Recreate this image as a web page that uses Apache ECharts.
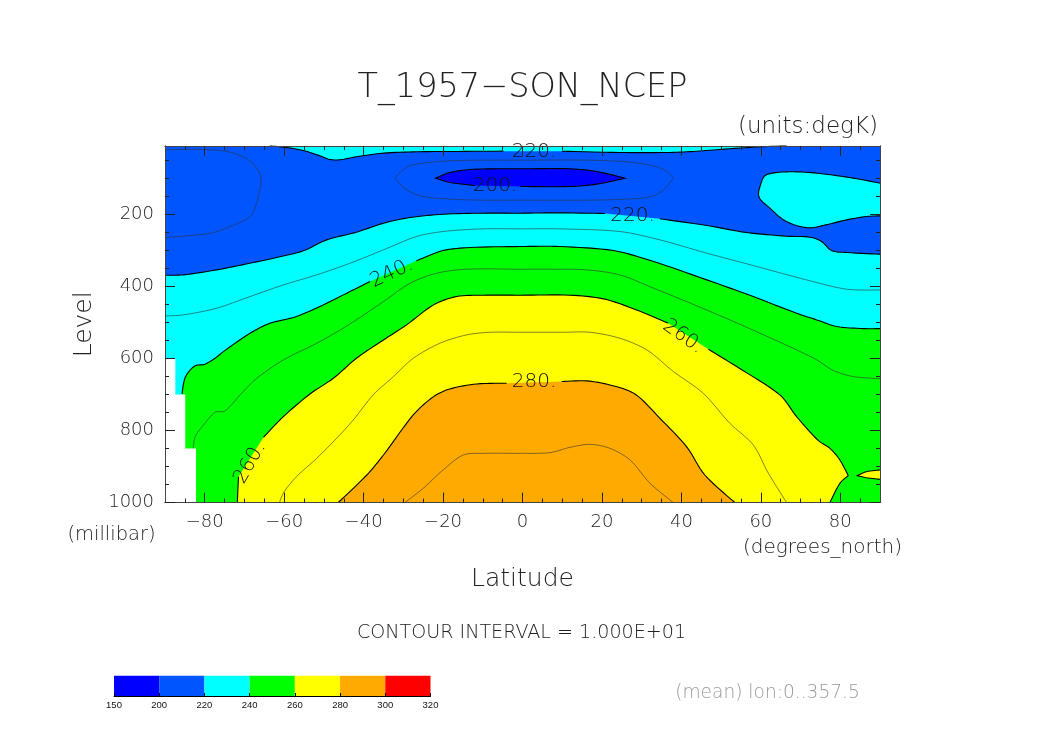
<!DOCTYPE html>
<html>
<head>
<meta charset="utf-8">
<title>T_1957-SON_NCEP</title>
<script src="https://cdn.jsdelivr.net/npm/echarts@6/dist/echarts.min.js"></script>
<style>
  html, body { margin: 0; padding: 0; background: #fff; }
  #chart { width: 1044px; height: 739px; }
</style>
</head>
<body>
<div id="chart"></div>
<script>
// contours as [latitude, millibar], null = gap for a label
const cont220Top = [[-63.6,10],[-60.2,13],[-55.2,22.4],[-51,37.2],[-48.5,47.4],[-46,48.3],[-41.8,40],[-35,29.8],[-26.7,26.1],[-18.3,25.2],[-4.8,24.3],null,[9.9,24.3],[24.5,28],[36.3,28],[43,25.2],[49.7,19.6],[59.8,12.2],[66.5,10]]
const cont220Main = [[-90,368.7],[-85.4,367.8],[-77,353.9],[-68.6,335.4],[-61.9,319.6],[-55.2,301.1],[-49.3,270.6],[-41.8,249.3],[-35,224.3],[-28.3,208.5],[-19.9,199.3],[-9.9,196.5],[-0.6,196.5],[9.4,195.6],[20.8,197.4],null,[34.6,212.2],[46.4,230.7],[56.4,250.2],[66.5,260.4],[72.4,263.2],[75.3,275.2],[77.8,300.2],[81.6,305.7],[90,310.4]]
const cont220Island = [[90,113.2],[83.3,99.3],[74.9,86.3],[69,81.7],[64,83.5],[61.1,91.9],[60.2,108.5],[59.5,150.2],[62.3,182.6],[65.7,215],[69,230.7],[72.4,237.2],[75.7,230.7],[81.6,215],[86.6,205.7],[90,203.9]]
const cont210Left = [[-90,20.6],[-80.4,19.6],[-73.6,27],[-69,48.3],[-66.9,71.5],[-65.8,99.3],[-66.3,141],[-68,198.3],[-70.3,217.8],[-77.8,250.2],[-84.5,259.5],[-90,264]]
const cont210Centre = [[-32.1,99.3],[-29.2,68.7],[-25,57.6],[-18.3,51.1],[-9.9,49.3],[-0.6,49.3],[16.2,49.3],[27.1,54.8],[33.8,67.8],[36.3,80.8],[38,99.3],[35.5,131.7],[32.5,150.2],[26.2,157.6],[16.2,160.4],[-0.6,160.4],[-9.9,160.4],[-18.3,157.6],[-25,150.2],[-29.2,131.7],[-32.1,99.3]]
const cont200 = [[-12,119.5],[-18.3,111.3],[-21.9,99.3],[-18.3,83.5],[-13.2,75.2],[-6.5,73.3],[-0.6,73.3],[12,73.3],[18.7,80.8],[25.8,99.3],[18.7,115.9],[12,122.4],[-0.6,122.4]]
const cont230 = [[-90,481.7],[-85.4,478.9],[-77,460.4],[-68.6,428],[-60.2,395.6],[-51.8,367.8],[-43.4,335.4],[-35,298.3],[-26.7,261.3],[-20,247.4],[-9.9,240],[-0.6,240],[9.4,240],[24.5,247.4],[34.6,270.6],[46.4,307.6],[58.1,341.9],[71.5,381.7],[81.6,407.6],[90,409.5]]
const cont240 = [[-85.7,698.4],[-84.9,652],[-82.5,620.6],[-80,616],[-77.4,599.3],[-75.3,580.8],[-68.6,529.8],[-63.6,502],[-60.2,492.8],[-56.9,483.5],[-51,455.7],[-45.1,423.3],[-38.4,386.3],null,[-26.7,328.9],[-20,300.2],[-13.2,291.9],[-0.6,289.1],[9.4,289.1],[22.9,300.2],[33,330.7],[46.4,381.7],[58.1,428],[69,474.3],[74.1,492.8],[79.1,511],[85.8,516.9],[90,516.9]]
const cont250 = [[-82.9,849],[-82.4,817],[-80.3,784.5],[-77.4,749.3],[-74.9,745.6],[-71.1,701.1],[-66.9,654.8],[-60.2,603.9],[-51.8,557.6],[-43.8,506.7],[-35,441.9],[-28.3,390.9],[-21.6,363.2],[-14.1,352],[-0.6,352],[7.8,352],[16.2,353.9],[24.5,367.8],[33,404.8],[41.3,441.9],[52.2,492.8],[59.8,529.8],[69,576.1],[74.1,603.9],[78.3,633.5],[83.3,650.2],[90,655.8]]
const cont260 = [[-71.8,1000],[-71.5,928],null,[-65.2,818.7],[-60.2,761.3],[-53.5,698.4],[-47.6,654.8],[-41.8,599.3],[-35,548.4],[-29.2,506.7],[-22.4,451.1],[-16.6,427.9],[-9.9,424.2],[-0.6,424.2],[12,424.2],[20.4,434.4],[28.7,465],[36.7,502],null,[46.8,574.3],[53.9,622.4],[64.8,701.1],[69,761.3],[74.5,828],[77.4,849.3],[79.9,881.7],[82,925.2],[79.9,946.5],[77.4,1000]]
const cont260Island = [[90,909.5],[86.6,914.1],[84.3,925.2],[86.6,930.8],[90,935.4]]
const cont270 = [[-61.2,1000],[-60,969.6],[-56.9,928],[-51.8,877],[-46.8,821.5],[-42.6,770.6],[-37.6,701.1],[-32.5,650.2],[-27.5,599.3],[-20.8,557.6],[-14.1,534.5],[-8.2,527.1],[-0.6,527.1],[10.3,527.1],[17,527.1],[24.5,543.7],[31.3,576.1],[38,636.3],[45.5,696.5],[52.2,779.8],[58.1,840],[61.9,918.7],[66.5,1000]]
const cont280 = [[-46.4,1000],[-39.2,923.4],[-35,867.8],[-27.5,756.7],[-22.4,705.8],[-18.3,684.5],[-11.5,670.6],[-4,668.7],null,[9.9,664],[16.2,662.2],[22,673.3],[28.3,698.4],[34.6,766],[41.3,844.6],[45.9,923.4],[53.5,1000]]
const cont290 = [[-29.6,1000],[-25,960.4],[-20,909.5],[-14.9,867.8],[-9.9,863.2],[-0.6,863.2],[6.9,861.3],[12,846.5],[17,838.2],[22,849.3],[27.1,881.7],[32.1,946.5],[38,1000]]
const missingEdge = [[-87.4,600],[-84.9,700],[-82.2,850]] // no data below these levels

const contourLabels = [
  ['220.', 2.9, 26, 0],
  ['200.', -6.9, 119.7, 0],
  ['220.', 27.7, 204, 0],
  ['240.', -32.9, 363, 25],
  ['260.', 40.4, 539, -35],
  ['280.', 2.9, 665, 0],
  ['260.', -68.6, 890, 60]
]

const xMajor = [-80, -60, -40, -20, 0, 20, 40, 60, 80]
const xMinor = [-85, -75, -70, -65, -55, -50, -45, -35, -30, -25, -15, -10, -5, 5, 10, 15, 25, 30, 35, 45, 50, 55, 65, 70, 75, 85]
const yMajor = [200, 400, 600, 800, 1000]
const yMinor = [50, 100, 150, 250, 300, 350, 450, 500, 550, 650, 700, 750, 850, 900, 950]

const colorbarTicks = [150, 200, 220, 240, 260, 280, 300, 320]
const colorbarColors = ['#0000ff', '#0055ff', '#00ffff', '#00ff00', '#ffff00', '#ffaa00', '#ff0000']

const FONT = '"DejaVu Sans", sans-serif'
const [DARK_BLUE, BLUE, CYAN, GREEN, YELLOW, ORANGE] = colorbarColors

const plotBox = [[-90, 10], [90, 10], [90, 1000], [-90, 1000]]
const fills = [
  { color: BLUE, close: plotBox },
  { color: CYAN, line: cont220Top },
  { color: CYAN, line: cont220Main, close: [[90, 1000], [-90, 1000]] },
  { color: CYAN, line: cont220Island },
  { color: GREEN, line: cont240, close: [[90, 1000], [-85.7, 1000]] },
  { color: YELLOW, line: cont260 },
  { color: YELLOW, line: cont260Island },
  { color: ORANGE, line: cont280 },
  { color: DARK_BLUE, line: cont200 }
]

const missingRing = [[-90, missingEdge[0][1]]]
missingEdge.forEach((p, i) => {
  missingRing.push(p)
  const next = missingEdge[i + 1]
  missingRing.push([p[0], next ? next[1] : 1000])
})
missingRing.push([-90, 1000])

const heavyLines = [cont220Top, cont220Main, cont220Island, cont200, cont240, cont260, cont260Island, cont280]
const thinLines = [cont210Left, cont210Centre, cont230, cont250, cont270, cont290]

function splitLine(line) {
  const parts = [[]]
  line.forEach(p => {
    if (p) parts[parts.length - 1].push(p)
    else parts.push([])
  })
  return parts
}

// unit direction through a point, none at a sharp corner so tips stay sharp
function direction(a, b, c) {
  const ux = b[0] - a[0], uy = b[1] - a[1]
  const vx = c[0] - b[0], vy = c[1] - b[1]
  const lu = Math.hypot(ux, uy) || 1
  const lv = Math.hypot(vx, vy) || 1
  if ((ux * vx + uy * vy) / (lu * lv) < 0.45) return [0, 0]
  const l = Math.hypot(c[0] - a[0], c[1] - a[1]) || 1
  return [(c[0] - a[0]) / l, (c[1] - a[1]) / l]
}

// rounds the pen path between the read points, on screen only
function roundPath(px) {
  if (px.length < 3) return px
  const out = []
  const k = 0.3
  for (let i = 0; i < px.length - 1; i++) {
    const p0 = px[Math.max(i - 1, 0)]
    const p1 = px[i]
    const p2 = px[i + 1]
    const p3 = px[Math.min(i + 2, px.length - 1)]
    const len = Math.hypot(p2[0] - p1[0], p2[1] - p1[1])
    const d1 = direction(p0, p1, p2)
    const d2 = direction(p1, p2, p3)
    const c1 = [p1[0] + d1[0] * len * k, p1[1] + d1[1] * len * k]
    const c2 = [p2[0] - d2[0] * len * k, p2[1] - d2[1] * len * k]
    for (let s = 0; s < 8; s++) {
      const t = s / 8
      const u = 1 - t
      out.push([
        u * u * u * p1[0] + 3 * u * u * t * c1[0] + 3 * u * t * t * c2[0] + t * t * t * p2[0],
        u * u * u * p1[1] + 3 * u * u * t * c1[1] + 3 * u * t * t * c2[1] + t * t * t * p2[1]
      ])
    }
  }
  out.push(px[px.length - 1])
  return out
}

function renderContours(params, api) {
  const toPx = p => api.coord(p)
  const curve = line => splitLine(line).map(part => roundPath(part.map(toPx)))
  const children = []
  fills.forEach(f => {
    let points = f.line ? [].concat(...curve(f.line)) : []
    if (f.close) points = points.concat(f.close.map(toPx))
    children.push({ type: 'polygon', shape: { points }, style: { fill: f.color } })
  })
  children.push({ type: 'polygon', shape: { points: missingRing.map(toPx) }, style: { fill: '#fff' } })
  thinLines.forEach(l => {
    curve(l).forEach(points => {
      children.push({ type: 'polyline', shape: { points }, style: { stroke: '#333', lineWidth: 0.6, fill: null } })
    })
  })
  heavyLines.forEach(l => {
    curve(l).forEach(points => {
      children.push({ type: 'polyline', shape: { points }, style: { stroke: '#000', lineWidth: 1.1, fill: null } })
    })
  })
  contourLabels.forEach(([text, lat, mb, rot]) => {
    const p = toPx([lat, mb])
    children.push({
      type: 'text',
      x: p[0],
      y: p[1],
      rotation: rot * Math.PI / 180,
      style: { text, fill: '#111', fontFamily: FONT, fontWeight: 200, fontSize: 20, align: 'center', verticalAlign: 'middle' }
    })
  })
  return { type: 'group', children }
}

function renderColorbar(params, api) {
  const i = api.value(0)
  const a = api.coord([i, 1])
  const b = api.coord([i + 1, 0])
  return { type: 'rect', shape: { x: a[0], y: a[1], width: b[0] - a[0], height: b[1] - a[1] }, style: { fill: colorbarColors[i] } }
}

function latAxis(grid, position, ticks, len, labels, name) {
  return {
    type: 'value', gridIndex: grid, position, min: -90, max: 90, z: 5,
    axisLine: { show: true, onZero: false, lineStyle: { color: '#444', width: 1 } },
    axisTick: { show: true, inside: true, length: len, customValues: ticks, lineStyle: { color: '#222', width: 1 } },
    axisLabel: labels
      ? { show: true, customValues: xMajor, margin: 11, color: '#222', fontFamily: FONT, fontWeight: 200, fontSize: 18,
          formatter: v => String(v).replace('-', '\u2212') }
      : { show: false },
    splitLine: { show: false },
    name: name || '', nameLocation: 'middle', nameGap: 64,
    nameTextStyle: { color: '#222', fontFamily: FONT, fontWeight: 200, fontSize: 25 }
  }
}

function levelAxis(grid, position, ticks, len, labels, name) {
  return {
    type: 'value', gridIndex: grid, position, min: 10, max: 1000, inverse: true, z: 5,
    axisLine: { show: true, onZero: false, lineStyle: { color: '#444', width: 1 } },
    axisTick: { show: true, inside: true, length: len, customValues: ticks, lineStyle: { color: '#222', width: 1 } },
    axisLabel: labels
      ? { show: true, customValues: yMajor, margin: 11, color: '#222', fontFamily: FONT, fontWeight: 200, fontSize: 18,
          formatter: v => String(v) }
      : { show: false },
    splitLine: { show: false },
    name: name || '', nameLocation: 'middle', nameGap: 68, nameRotate: 90,
    nameTextStyle: { color: '#222', fontFamily: FONT, fontWeight: 200, fontSize: 25 }
  }
}

function note(text, x, y, size, color) {
  return {
    type: 'text', x, y,
    style: { text, fill: color || '#222', fontFamily: FONT, fontWeight: 200, fontSize: size, align: 'center', verticalAlign: 'middle' }
  }
}

const plotRect = { left: 165, top: 146, width: 715, height: 356.6 }

const option = {
  animation: false,
  backgroundColor: '#fff',
  grid: [
    plotRect,
    plotRect,
    { left: 114, top: 675.7, width: 316.5, height: 20.3 }
  ],
  xAxis: [
    latAxis(0, 'bottom', xMajor, 10, true, 'Latitude'),
    latAxis(0, 'top', xMajor, 10, false),
    latAxis(1, 'bottom', xMinor, 4, false),
    latAxis(1, 'top', xMinor, 4, false),
    {
      type: 'value', gridIndex: 2, min: 0, max: 7, interval: 1, z: 5,
      axisLine: { show: true, onZero: false, lineStyle: { color: '#000', width: 1 } },
      axisTick: { show: true, inside: true, length: 3, lineStyle: { color: '#000' } },
      axisLabel: { margin: 4, color: '#111', fontFamily: '"Liberation Sans", sans-serif', fontSize: 9.5, formatter: v => colorbarTicks[v] },
      splitLine: { show: false }
    }
  ],
  yAxis: [
    levelAxis(0, 'left', yMajor, 10, true, 'Level'),
    levelAxis(0, 'right', yMajor, 10, false),
    levelAxis(1, 'left', yMinor, 4, false),
    levelAxis(1, 'right', yMinor, 4, false),
    { type: 'value', gridIndex: 2, min: 0, max: 1, show: false }
  ],
  series: [
    {
      type: 'custom', xAxisIndex: 0, yAxisIndex: 0, coordinateSystem: 'cartesian2d', z: 2, silent: true, clip: false,
      data: [[0, 10]], renderItem: renderContours
    },
    {
      type: 'custom', xAxisIndex: 4, yAxisIndex: 4, coordinateSystem: 'cartesian2d', z: 2, silent: true,
      data: colorbarColors.map((c, i) => [i, 0]), renderItem: renderColorbar
    }
  ],
  graphic: [
    note('T_1957\u2212SON_NCEP', 522.5, 88, 33.5),
    note('(units:degK)', 808, 127, 23),
    note('(millibar)', 111.5, 535, 19.5),
    note('(degrees_north)', 822.5, 548, 20),
    note('CONTOUR INTERVAL = 1.000E+01', 521.5, 633, 19.1),
    note('(mean) lon:0..357.5', 767.5, 693, 18.6, '#999')
  ]
}

const chart = echarts.init(document.getElementById('chart'), null, { renderer: 'canvas' })
chart.setOption(option)
</script>
</body>
</html>
